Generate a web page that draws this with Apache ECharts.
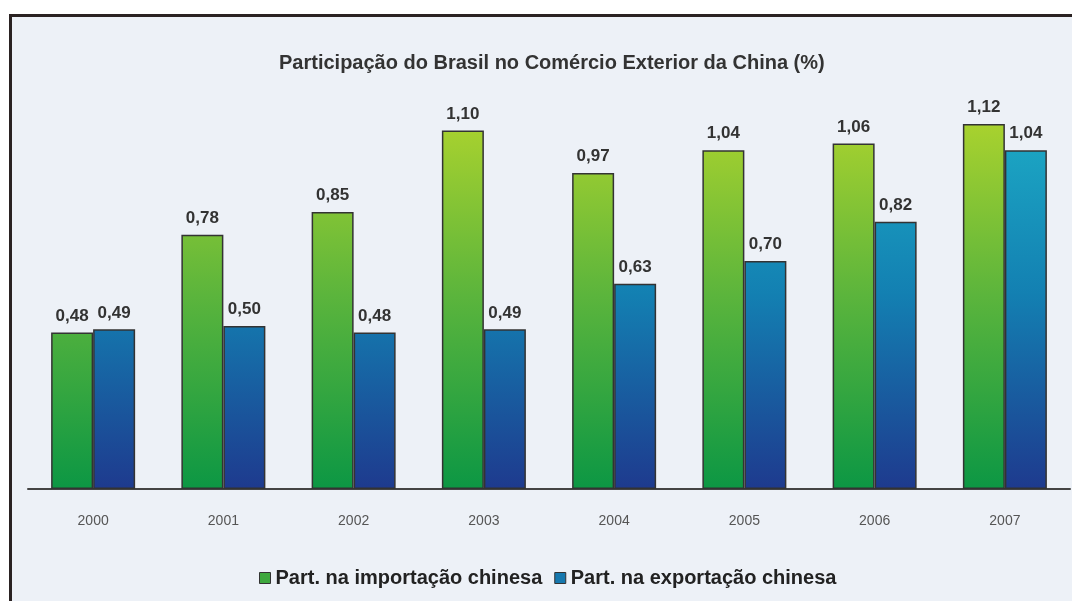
<!DOCTYPE html>
<html>
<head>
<meta charset="utf-8">
<script src="https://cdn.jsdelivr.net/npm/echarts@6/dist/echarts.min.js"></script>
<style>
  body { margin: 0; background: #fff; }
  #chart { width: 1072px; height: 601px; }
</style>
</head>
<body>
<div id="chart"></div>
<script>
// dados do gráfico
var anos = ['2000', '2001', '2002', '2003', '2004', '2005', '2006', '2007'];
var importacao = [0.48, 0.78, 0.85, 1.10, 0.97, 1.04, 1.06, 1.12];
var exportacao = [0.49, 0.50, 0.48, 0.49, 0.63, 0.70, 0.82, 1.04];
var nomeImp = 'Part. na importação chinesa';
var nomeExp = 'Part. na exportação chinesa';

var chart = echarts.init(document.getElementById('chart'));

// gradiente em coordenadas absolutas (topo do grid -> eixo)
function grad(c1, c2, c3) {
    return new echarts.graphic.LinearGradient(0, 98, 0, 489, [
        {offset: 0, color: c1},
        {offset: 0.5, color: c2},
        {offset: 1, color: c3}
    ], true);
}

var rotulo = {
    show: true,
    position: 'top',
    distance: 8,
    color: '#333',
    fontWeight: 'bold',
    fontSize: 17,
    fontFamily: 'Liberation Sans, Arial, sans-serif',
    formatter: function (p) {
        return p.value.toFixed(2).replace('.', ',');
    }
};

var option = {
    backgroundColor: '#fff',
    animation: false,
    graphic: [
        {type: 'rect', z: 0, shape: {x: 10, y: 15, width: 1062, height: 586}, style: {fill: '#edf1f7'}},
        {type: 'rect', z: 1, shape: {x: 9, y: 14, width: 1063, height: 3}, style: {fill: '#2a2222'}},
        {type: 'rect', z: 1, shape: {x: 9, y: 14, width: 3, height: 587}, style: {fill: '#2a2222'}}
    ],
    title: {
        text: 'Participação do Brasil no Comércio Exterior da China (%)',
        left: 274,
        top: 48,
        textStyle: {
            color: '#333',
            fontSize: 20,
            fontWeight: 'bold',
            fontFamily: 'Liberation Sans, Arial, sans-serif'
        }
    },
    legend: {
        top: 563,
        left: 254,
        itemWidth: 11,
        itemHeight: 11,
        itemGap: 12,
        icon: 'rect',
        textStyle: {
            color: '#222',
            fontSize: 20,
            fontWeight: 'bold',
            fontFamily: 'Liberation Sans, Arial, sans-serif'
        },
        data: [
            {name: nomeImp, itemStyle: {color: '#3ea83e', borderColor: '#333', borderWidth: 1}},
            {name: nomeExp, itemStyle: {color: '#1678ae', borderColor: '#333', borderWidth: 1}}
        ]
    },
    grid: {left: 28, right: 2, top: 98, bottom: 112},
    xAxis: {
        type: 'category',
        data: anos,
        axisLine: {lineStyle: {color: '#444', width: 2}},
        axisTick: {show: false},
        axisLabel: {
            margin: 25,
            color: '#555',
            fontSize: 14,
            fontFamily: 'Liberation Sans, Arial, sans-serif'
        }
    },
    yAxis: {
        type: 'value',
        min: 0,
        max: 1.2,
        show: false,
        splitLine: {show: false}
    },
    series: [
        {
            name: nomeImp,
            type: 'bar',
            data: importacao,
            barWidth: 42,
            barGap: '0%',
            itemStyle: {
                color: grad('#b4d62c', '#5cb53c', '#0c9744'),
                borderColor: '#333',
                borderWidth: 1.5
            },
            label: rotulo
        },
        {
            name: nomeExp,
            type: 'bar',
            data: exportacao,
            barWidth: 42,
            itemStyle: {
                color: grad('#1eb0c8', '#1380b2', '#1e3a8e'),
                borderColor: '#333',
                borderWidth: 1.5
            },
            label: rotulo
        }
    ]
};

chart.setOption(option);
</script>
</body>
</html>
